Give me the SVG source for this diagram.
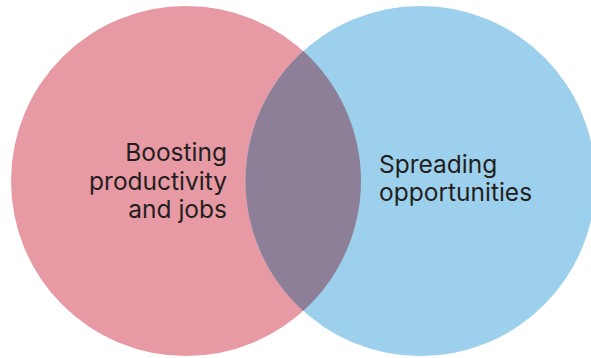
<svg xmlns="http://www.w3.org/2000/svg" width="591" height="358" viewBox="0 0 591 358">
<style>
.lbl{font-family:"Inter","Lato","Liberation Sans",sans-serif;font-size:24.5px;fill:#231f20;}
</style>
<rect width="591" height="358" fill="#ffffff"/>
<g id="node-productivity">
<circle cx="186" cy="181" r="175" fill="#e89aa4"/>
</g>
<g id="node-opportunities">
<circle cx="420.5" cy="181" r="175" fill="#9dd0ec"/>
</g>
<g id="node-overlap">
<path d="M303.25,51.1 A175,175 0 0 1 303.25,310.9 A175,175 0 0 1 303.25,51.1 Z" fill="#8e7f99"/>
</g>
<g id="labels">
<text class="lbl" text-anchor="end" x="227" y="161">Boosting</text>
<text class="lbl" text-anchor="end" x="227" y="189.5">productivity</text>
<text class="lbl" text-anchor="end" x="227" y="218">and jobs</text>
<text class="lbl" x="379" y="173">Spreading</text>
<text class="lbl" x="379" y="200.5">opportunities</text>
</g>
<g id="connectors"></g>
</svg>
